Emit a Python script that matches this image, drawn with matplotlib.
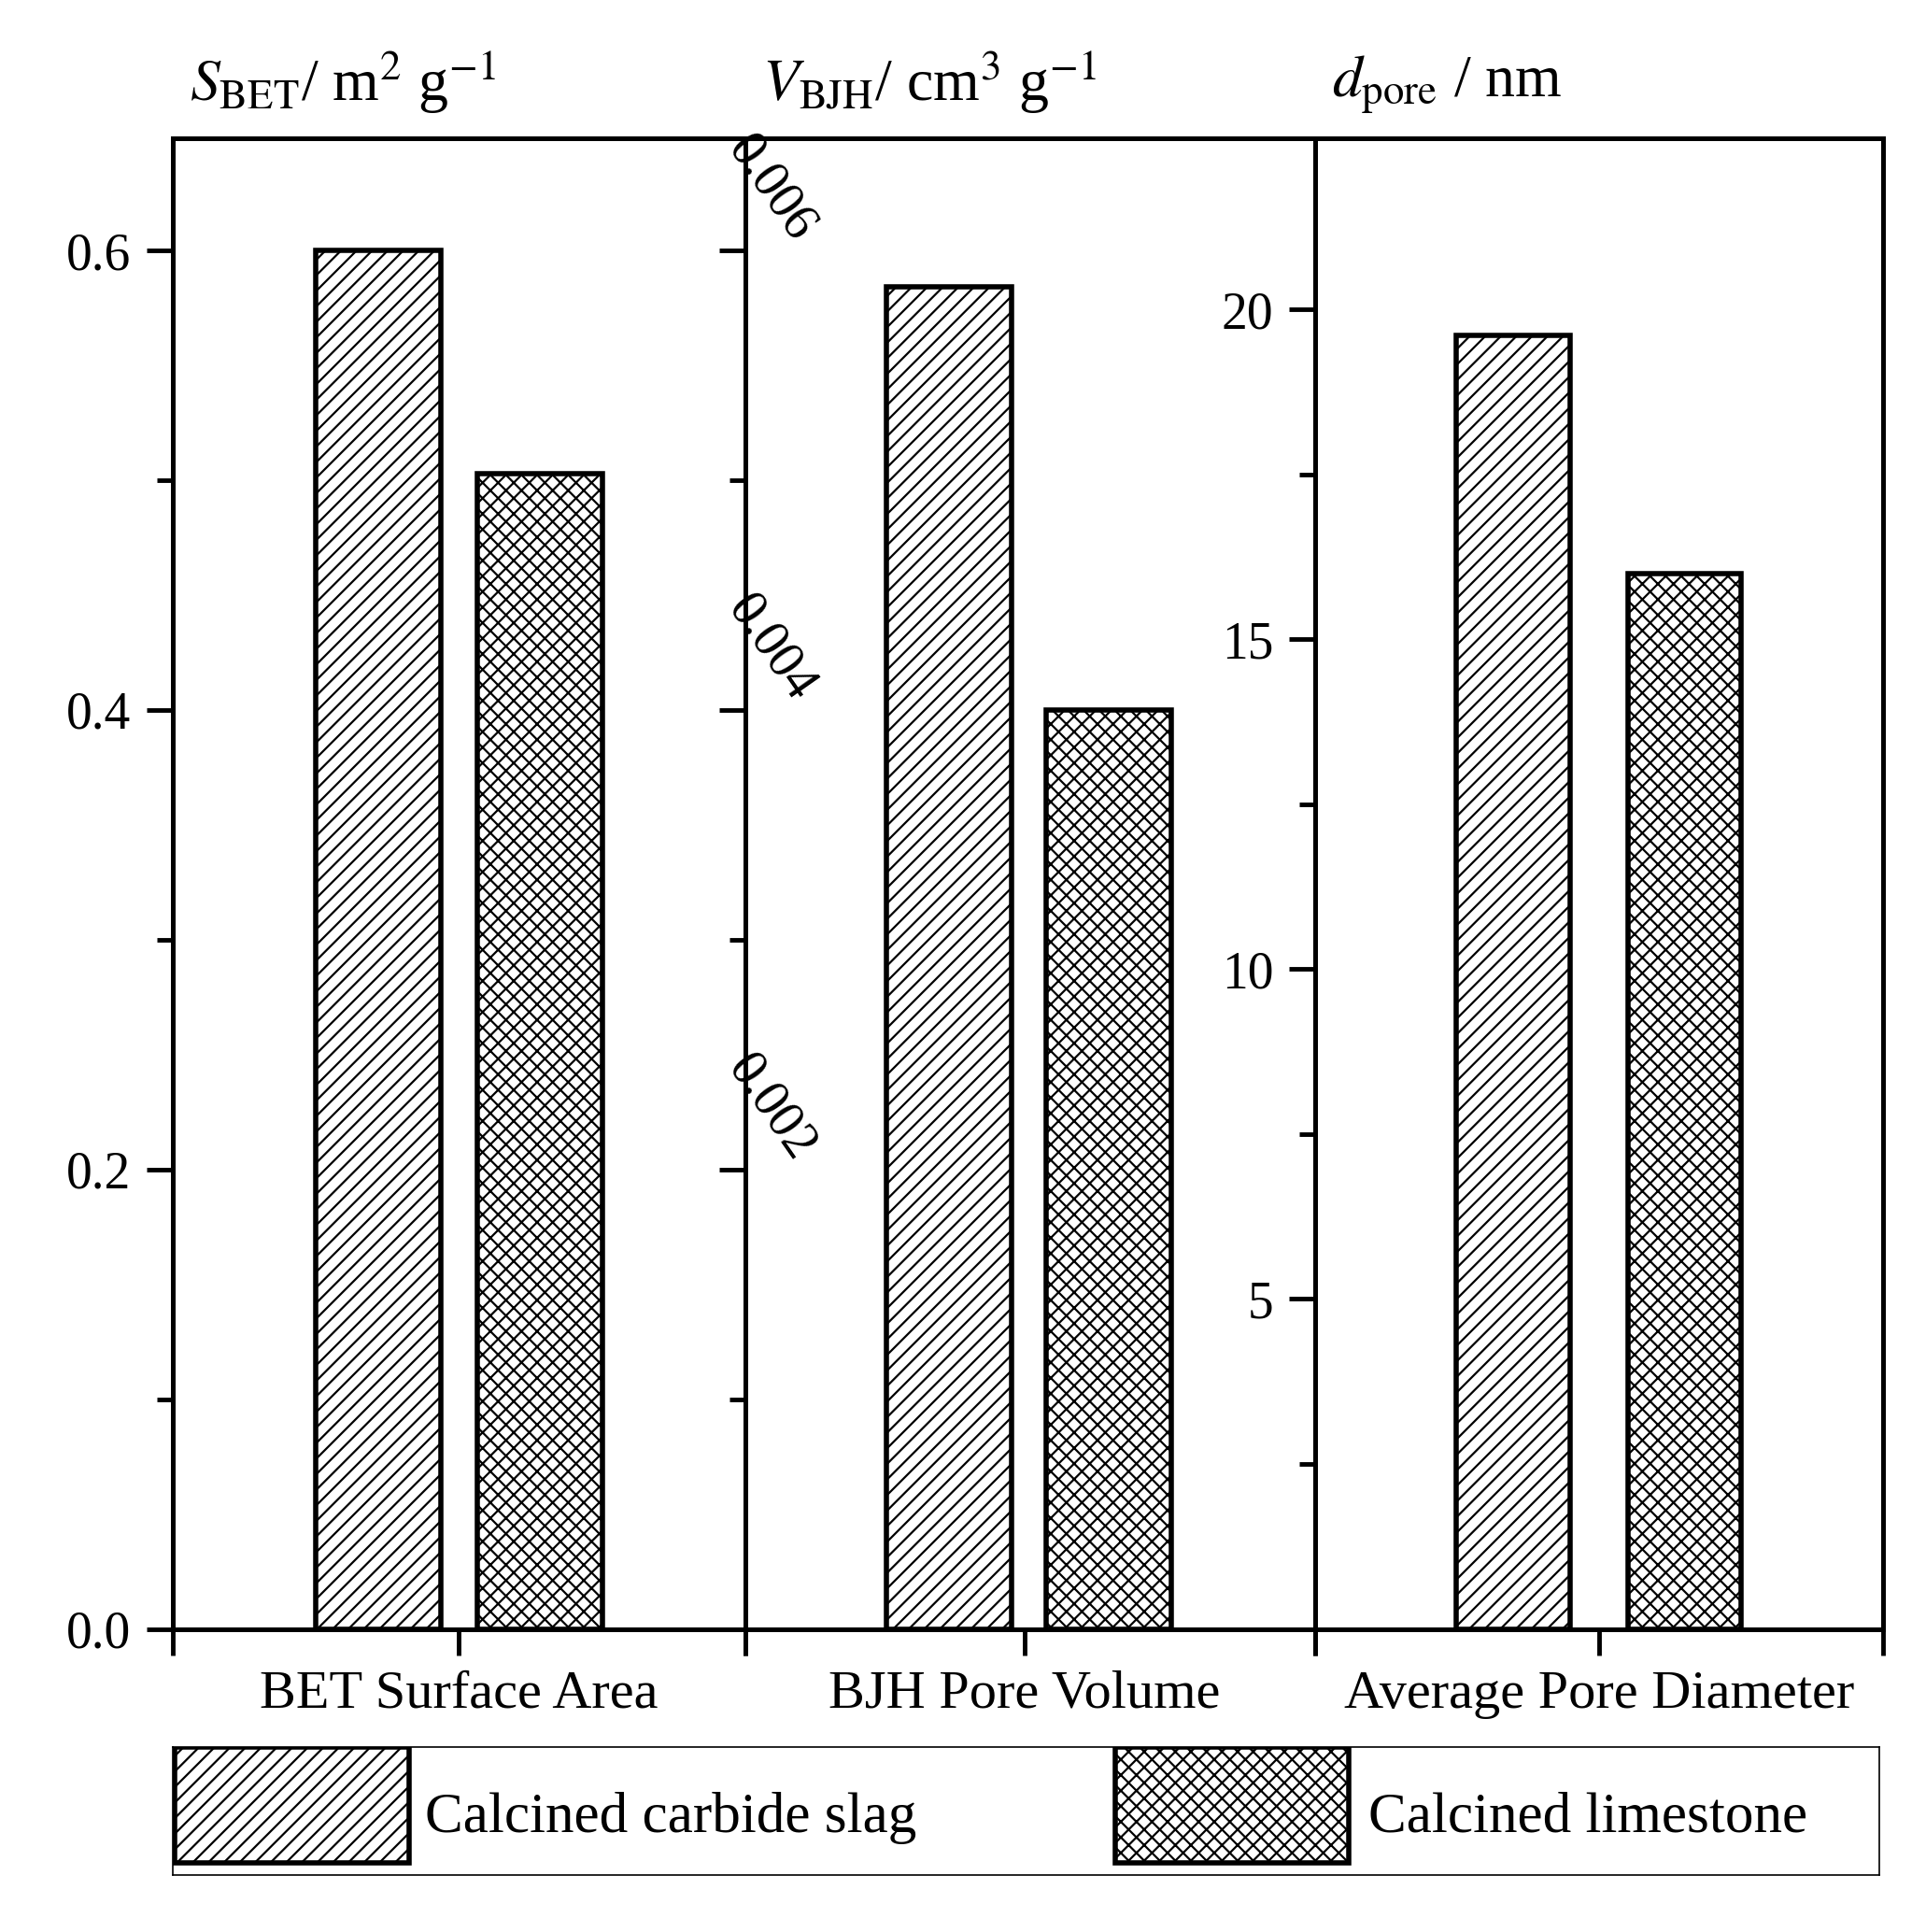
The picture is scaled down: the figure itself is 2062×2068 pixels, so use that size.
import matplotlib
matplotlib.use("Agg")
import matplotlib.pyplot as plt
from matplotlib.patches import Rectangle

plt.rcParams["font.family"] = ["Liberation Serif", "DejaVu Serif"]
plt.rcParams["mathtext.fontset"] = "stix"
plt.rcParams["hatch.linewidth"] = 1.6

categories = ["BET Surface Area", "BJH Pore Volume", "Average Pore Diameter"]
series = ["Calcined carbide slag", "Calcined limestone"]
slag = [0.600, 0.00584, 19.6]
limestone = [0.503, 0.00400, 16.0]
hatches = ["//", "xx"]

ylims = [(0, 0.649), (0, 0.00649), (0, 22.6)]
major = [[0.0, 0.2, 0.4, 0.6], [0.002, 0.004, 0.006], [5, 10, 15, 20]]
minor = [[0.1, 0.3, 0.5], [0.001, 0.003, 0.005], [2.5, 7.5, 12.5, 17.5]]
major_labels = [["0.0", "0.2", "0.4", "0.6"], ["0.002", "0.004", "0.006"], ["5", "10", "15", "20"]]
titles = [r"$S_{\rm BET}$/ m$^2$ g$^{-1}$", r"$V_{\rm BJH}$/ cm$^3$ g$^{-1}$", r"$d_{\rm pore}$ / nm"]
centers = [(0.359, 0.641), (0.357, 0.638), (0.349, 0.651)]
widths = [0.219, 0.22, 0.2]
tickpos = [0.5, 0.49, 0.5]

fig = plt.figure(figsize=(20.62, 20.68), dpi=100)
lefts = [0.0896, 0.387, 0.6827]
rights = [0.387, 0.6827, 0.9776]
bottom, height = 0.1569, 0.7717

for i in range(3):
    ax = fig.add_axes([lefts[i], bottom, rights[i] - lefts[i], height])
    for j, vals in enumerate([slag, limestone]):
        ax.bar(centers[i][j], vals[i], width=widths[i], facecolor="white",
               edgecolor="black", linewidth=4, hatch=hatches[j], zorder=2)
    ax.set_xlim(0, 1)
    ax.set_ylim(*ylims[i])
    ax.set_xticks([0, tickpos[i], 1])
    ax.set_xticklabels(["", categories[i], ""], fontsize=42)
    ax.set_yticks(major[i])
    ax.set_yticklabels(major_labels[i], fontsize=40)
    ax.set_yticks(minor[i], minor=True)
    ax.tick_params(axis="both", which="major", direction="out", length=20, width=3.5, pad=12)
    ax.tick_params(axis="y", which="minor", direction="out", length=12, width=3.5)
    for s in ax.spines.values():
        s.set_linewidth(3.6)
    if i == 1:
        ax.tick_params(axis="y", which="major", labelrotation=-55, pad=-40)
        for lab in ax.get_yticklabels():
            lab.set_ha("center")
            lab.set_va("bottom")
    ax.text(0.03, 1.015, titles[i], transform=ax.transAxes, fontsize=46,
            ha="left", va="bottom")

# legend box
lax = fig.add_axes([0.0896, 0.0293, 0.886, 0.0663])
lax.set_xlim(0, 1)
lax.set_ylim(0, 1)
lax.set_xticks([])
lax.set_yticks([])
for s in lax.spines.values():
        s.set_linewidth(1.2)
patch_x = [0.0015, 0.5525]
text_x = [0.148, 0.701]
for j in range(2):
    lax.add_patch(Rectangle((patch_x[j], 0.1), 0.137, 0.9, facecolor="white",
                            edgecolor="black", linewidth=4, hatch=hatches[j]))
    lax.text(text_x[j], 0.45, series[j], fontsize=44, ha="left", va="center")

fig.savefig("out.png", dpi=100)
